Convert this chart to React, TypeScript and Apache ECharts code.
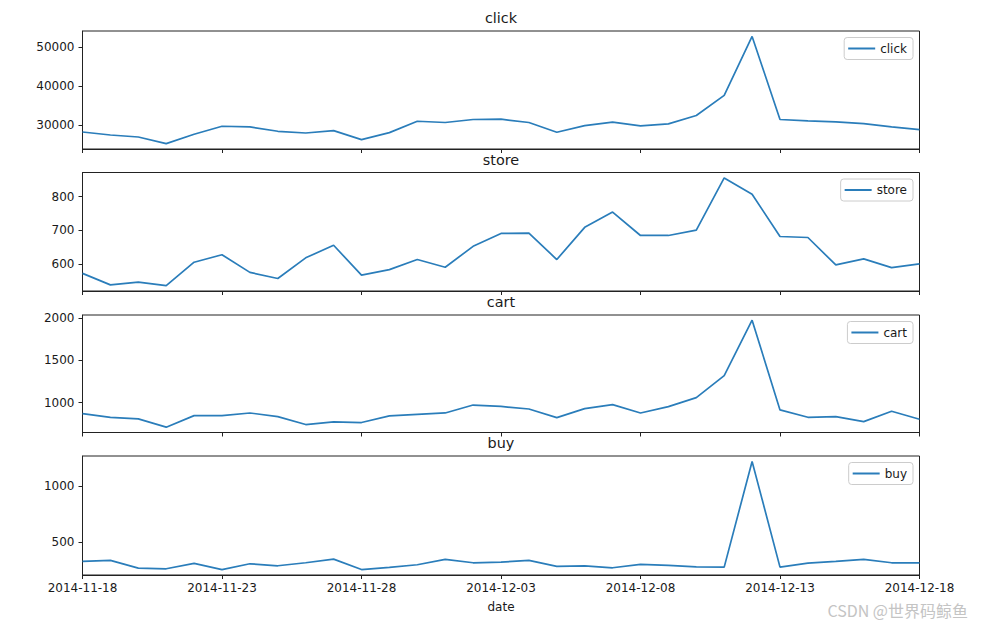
import React, { useEffect, useRef } from "react";
import * as echarts from "echarts";

const dates = [
  "2014-11-18", "2014-11-19", "2014-11-20", "2014-11-21", "2014-11-22", "2014-11-23",
  "2014-11-24", "2014-11-25", "2014-11-26", "2014-11-27", "2014-11-28", "2014-11-29",
  "2014-11-30", "2014-12-01", "2014-12-02", "2014-12-03", "2014-12-04", "2014-12-05",
  "2014-12-06", "2014-12-07", "2014-12-08", "2014-12-09", "2014-12-10", "2014-12-11",
  "2014-12-12", "2014-12-13", "2014-12-14", "2014-12-15", "2014-12-16", "2014-12-17",
  "2014-12-18",
];

const clickValues = [
  28270, 27500, 26980, 25270, 27700, 29740, 29570, 28450, 28010, 28630, 26300, 28100,
  31030, 30700, 31470, 31550, 30700, 28190, 29920, 30780, 29820, 30340, 32500, 37680,
  52800, 31470, 31120, 30860, 30430, 29570, 28890,
];

const storeValues = [
  573, 539, 547, 537, 606, 628, 576, 558, 619, 656, 568, 584,
  614, 591, 653, 691, 692, 614, 709, 754, 685, 685, 701, 855,
  807, 682, 679, 598, 616, 590, 601,
];

const cartValues = [
  871, 827, 808, 710, 847, 847, 878, 835, 741, 772, 765, 843,
  862, 878, 972, 955, 925, 823, 929, 976, 878, 953, 1059, 1320,
  1976, 914, 827, 835, 776, 898, 804,
];

const buyValues = [
  324, 333, 264, 258, 306, 251, 303, 285, 312, 345, 251, 270,
  294, 342, 312, 318, 333, 279, 285, 267, 297, 288, 276, 273,
  1224, 273, 309, 324, 342, 312, 312,
];

const panelNames = ["click", "store", "cart", "buy"];
const panelValues = [clickValues, storeValues, cartValues, buyValues];
const yTickValues = [
  [30000, 40000, 50000],
  [600, 700, 800],
  [1000, 1500, 2000],
  [500, 1000],
];
const yMins = [23900, 521, 647, 202];
const yMaxs = [54200, 871, 2037, 1273];
const xAxisName = "date";
const watermark = "CSDN @世界码鲸鱼";

export default function App() {
  const ref = useRef<HTMLDivElement>(null);

  useEffect(() => {
    if (!ref.current) return;
    const chart = echarts.init(ref.current, null, { renderer: "svg" });

    const left = 82.5;
    const width = 837;
    const tops = [31, 172.5, 315, 456];
    const heights = [118, 118.5, 117.5, 119];
    const textColor = "#1a1a1a";
    const axisColor = "#222";
    const font = "DejaVu Sans";
    const lineColor = "#2a7dba";

    const grid = tops.map((t, i) => ({
      left,
      width,
      top: t,
      height: heights[i],
      show: true,
      borderColor: axisColor,
      borderWidth: 1,
      backgroundColor: "transparent",
      containLabel: false,
    }));

    const xAxis = panelNames.map((_, i) => ({
      type: "category",
      gridIndex: i,
      data: dates,
      boundaryGap: false,
      axisLine: { show: true, lineStyle: { color: axisColor, width: 1 } },
      axisTick: {
        show: true,
        interval: 4,
        length: 4,
        inside: false,
        lineStyle: { color: axisColor, width: 1 },
      },
      axisLabel: {
        show: i === 3,
        interval: 4,
        fontSize: 12,
        color: textColor,
        fontFamily: font,
        margin: 7,
      },
      splitLine: { show: false },
      name: i === 3 ? xAxisName : "",
      nameLocation: "middle",
      nameGap: 26,
      nameTextStyle: { fontSize: 12, color: textColor, fontFamily: font },
    }));

    const yAxis = panelNames.map((_, i) => ({
      type: "value",
      gridIndex: i,
      min: yMins[i],
      max: yMaxs[i],
      axisLine: { show: true, lineStyle: { color: axisColor, width: 1 } },
      axisTick: {
        show: true,
        length: 4,
        customValues: yTickValues[i],
        lineStyle: { color: axisColor, width: 1 },
      },
      axisLabel: {
        show: true,
        customValues: yTickValues[i],
        formatter: (v: number) => String(v),
        fontSize: 12,
        color: textColor,
        fontFamily: font,
        margin: 8,
      },
      splitLine: { show: false },
    }));

    const series = panelNames.map((name, i) => ({
      type: "line",
      name,
      xAxisIndex: i,
      yAxisIndex: i,
      data: panelValues[i],
      symbol: "none",
      showSymbol: false,
      lineStyle: { color: lineColor, width: 1.7 },
      itemStyle: { color: lineColor },
      emphasis: { disabled: true },
    }));

    const legend = panelNames.map((name, i) => ({
      data: [{ name, icon: "rect" }],
      right: 72,
      top: tops[i] + 6.5,
      orient: "vertical",
      itemWidth: 27,
      itemHeight: 2,
      itemStyle: { color: lineColor },
      borderColor: "#cccccc",
      borderWidth: 1,
      borderRadius: 3,
      padding: [4, 6, 4, 4],
      backgroundColor: "rgba(255,255,255,0.8)",
      selectedMode: false,
      textStyle: { fontSize: 12, color: textColor, fontFamily: font, lineHeight: 14 },
    }));

    const titles = panelNames.map((name, i) => ({
      type: "text",
      x: left + width / 2,
      y: tops[i] - 13,
      style: {
        text: name,
        fill: textColor,
        font: `14.4px "${font}"`,
        textAlign: "center",
        textVerticalAlign: "middle",
      },
      silent: true,
    }));

    const option = {
      animation: false,
      backgroundColor: "#ffffff",
      grid,
      xAxis,
      yAxis,
      series,
      legend,
      graphic: [
        ...titles,
        {
          type: "text",
          right: 17,
          top: 602,
          style: {
            text: watermark,
            fill: "#c4c4c4",
            font: '16px "Noto Sans CJK SC"',
          },
          silent: true,
        },
      ],
    };

    chart.setOption(option as any);
    return () => chart.dispose();
  }, []);

  return (
    <div
      ref={ref}
      style={{ position: "fixed", left: 0, top: 0, width: 985, height: 633 }}
    />
  );
}
